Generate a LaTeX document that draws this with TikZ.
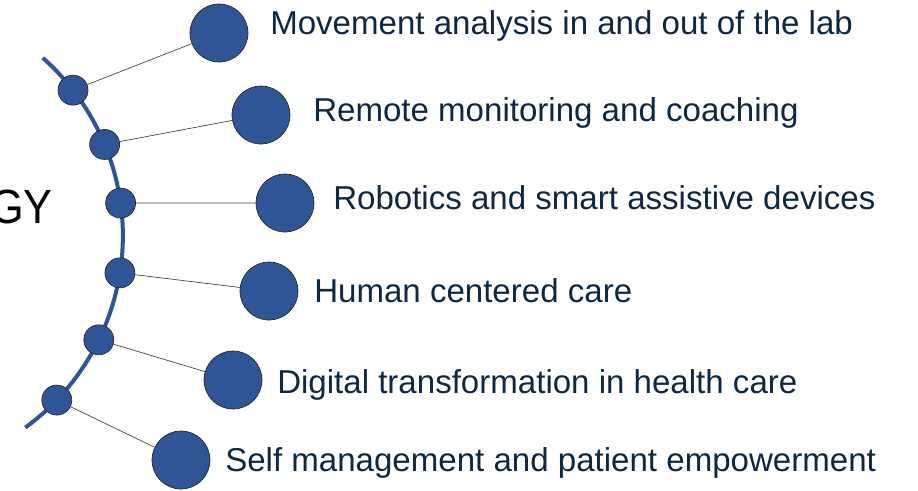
\documentclass[tikz,border=0pt]{standalone}
\usepackage{fontspec}
\setmainfont{Liberation Sans}
\usepackage{tikz}
\usetikzlibrary{calc}

\definecolor{dotblue}{HTML}{2F5597}
\definecolor{navytext}{HTML}{0E2841}

\begin{document}
\begin{tikzpicture}[x=0.75pt, y=0.75pt,
    dot/.style={circle, fill=dotblue, draw=black!85, line width=0.5pt, minimum size=22.5pt, inner sep=0pt},
    hub/.style={circle, fill=dotblue, draw=black!85, line width=0.5pt, minimum size=43.5pt, inner sep=0pt},
    topic/.style={anchor=base west, inner sep=0pt, text=navytext, font=\fontsize{24.8}{30}\selectfont},
    spoke/.style={draw=black!75, line width=0.5pt}]
    \useasboundingbox (0,0) rectangle (918,-490);

    % the curved spine
    \coordinate (ctr) at (-114.6,-235.7);
    \draw[dotblue, line width=3pt] ($(ctr)+(48.5:178.1pt)$) arc[start angle=48.5, end angle=-53.9, radius=178.1pt];

    \node[anchor=base east, inner sep=0pt, xscale=0.9, font=\fontsize{36}{40}\selectfont] (gy) at (53,-223) {GY};

    % dots on the spine
    \node[dot] (d1) at ($(ctr)+(37.8:178.1pt)$) {};
    \node[dot] (d2) at ($(ctr)+(22.6:178.1pt)$) {};
    \node[dot] (d3) at ($(ctr)+(7.9:178.1pt)$) {};
    \node[dot] (d4) at ($(ctr)+(-9.0:178.1pt)$) {};
    \node[dot] (d5) at ($(ctr)+(-26.0:178.1pt)$) {};
    \node[dot] (d6) at ($(ctr)+(-43.8:178.1pt)$) {};

    % topic circles
    \node[hub] (c1) at (219,-33) {};
    \node[hub] (c2) at (261,-115) {};
    \node[hub] (c3) at (285,-203) {};
    \node[hub] (c4) at (269,-291) {};
    \node[hub] (c5) at (233,-380) {};
    \node[hub] (c6) at (181,-460) {};

    \draw[spoke] (d1) -- (c1);
    \draw[spoke] (d2) -- (c2);
    \draw[spoke] (d3) -- (c3);
    \draw[spoke] (d4) -- (c4);
    \draw[spoke] (d5) -- (c5);
    \draw[spoke] (d6) -- (c6);

    % topics
    \node[topic] (t1) at (270,-34) {Movement analysis in and out of the lab};
    \node[topic] (t2) at (313,-121) {Remote monitoring and coaching};
    \node[topic] (t3) at (333,-209) {Robotics and smart assistive devices};
    \node[topic] (t4) at (314,-302) {Human centered care};
    \node[topic] (t5) at (277,-393) {Digital transformation in health care};
    \node[topic] (t6) at (225,-471) {Self management and patient empowerment};
\end{tikzpicture}
\end{document}
